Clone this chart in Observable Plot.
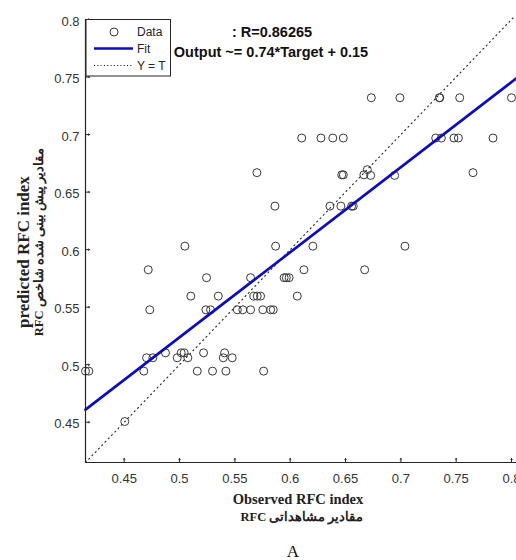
<!DOCTYPE html>
<html><head><meta charset="utf-8">
<script src="https://cdn.jsdelivr.net/npm/d3@7"></script>
<script src="https://cdn.jsdelivr.net/npm/@observablehq/plot@0.6"></script>
<style>
body{margin:0;background:#fff;}
#chart{width:516px;height:560px;overflow:hidden;}
</style></head><body><div id="chart"></div>
<script>
// ---- data ----
const targets = [
  0.4505,
  0.4150, 0.4180, 0.4677, 0.5160, 0.5298, 0.5419, 0.5760,
  0.4702, 0.4759, 0.4979, 0.5075, 0.5395, 0.5476,
  0.4873, 0.5015, 0.5042, 0.5217, 0.5407,
  0.4731, 0.5238, 0.5280, 0.5522, 0.5572, 0.5642, 0.5753, 0.5823, 0.5847,
  0.5102, 0.5350, 0.5672, 0.5702, 0.5732, 0.6064,
  0.5244, 0.5642, 0.5945, 0.5965, 0.5990,
  0.4717, 0.6124, 0.6673,
  0.5048, 0.5868, 0.6205, 0.7037,
  0.5862, 0.6359, 0.6458, 0.6555, 0.6570,
  0.6466, 0.6480, 0.6666, 0.6697, 0.6727, 0.6944,
  0.5699, 0.7652,
  0.6104, 0.6278, 0.6385, 0.6480, 0.7315, 0.7366, 0.7480, 0.7520, 0.7833,
  0.6733, 0.6992, 0.7348, 0.7352, 0.7532, 0.8000
];
const outputs = [
  0.4506,
  0.4944, 0.4944, 0.4944, 0.4944, 0.4944, 0.4944, 0.4944,
  0.5060, 0.5060, 0.5060, 0.5060, 0.5060, 0.5060,
  0.5103, 0.5103, 0.5103, 0.5103, 0.5103,
  0.5477, 0.5477, 0.5477, 0.5477, 0.5477, 0.5477, 0.5477, 0.5477, 0.5477,
  0.5596, 0.5596, 0.5596, 0.5596, 0.5596, 0.5596,
  0.5756, 0.5756, 0.5756, 0.5756, 0.5756,
  0.5825, 0.5825, 0.5825,
  0.6030, 0.6030, 0.6030, 0.6030,
  0.6378, 0.6378, 0.6378, 0.6378, 0.6378,
  0.6650, 0.6650, 0.6650, 0.6695, 0.6645, 0.6645,
  0.6669, 0.6669,
  0.6970, 0.6970, 0.6970, 0.6970, 0.6970, 0.6970, 0.6970, 0.6970, 0.6970,
  0.7320, 0.7320, 0.7320, 0.7320, 0.7320, 0.7320
];
const axisLimits = [0.415, 0.8];
const lineEnd = 0.805;
const fitSlope = 0.7395;
const fitIntercept = 0.154;
const xTicks = [0.45, 0.5, 0.55, 0.6, 0.65, 0.7, 0.75, 0.8];
const xTickLabels = ["0.45", "0.5", "0.55", "0.6", "0.65", "0.7", "0.75", "0.8"];
const yTicks = [0.45, 0.5, 0.55, 0.6, 0.65, 0.7, 0.75, 0.8];
const yTickLabels = ["0.45", "0.5", "0.55", "0.6", "0.65", "0.7", "0.75", "0.8"];
const titleLines = [": R=0.86265", "Output ~= 0.74*Target + 0.15"];
const legendLabels = ["Data", "Fit", "Y = T"];
const xLabelLines = ["Observed RFC index", "RFC مقادیر مشاهداتی"];
const yLabelLines = ["predicted RFC index", "RFC مقادیر پیش بینی شده شاخص"];
const panelLabel = "A";

// ---- derived tables ----
const points = targets.map((t, i) => ({t, o: outputs[i]}));
const fitLine = [axisLimits[0], lineEnd].map(t => ({t, o: fitSlope * t + fitIntercept}));
const idLine = [axisLimits[0], 0.803].map(t => ({t, o: t}));

const SANS = "'Liberation Sans', Arial, sans-serif";
const SERIF = "'Liberation Serif', 'Times New Roman', serif";
const INK = "#262626";
const BLUE = "#0c0cc4";

const plot = Plot.plot({
  width: 516, height: 560,
  marginLeft: 85, marginRight: 5, marginTop: 19, marginBottom: 98,
  style: {fontFamily: SANS, fontSize: "13px", color: "#333", background: "#fff", overflow: "visible"},
  x: {domain: axisLimits},
  y: {domain: axisLimits},
  marks: [
    Plot.line(idLine, {x: "t", y: "o", stroke: "#222", strokeWidth: 1.1, strokeDasharray: "1.1,3.6"}),
    Plot.dot(points, {x: "t", y: "o", r: 4, stroke: "#383838", fill: "none", strokeWidth: 1}),
    Plot.line(fitLine, {x: "t", y: "o", stroke: BLUE, strokeWidth: 2.7}),
    Plot.ruleX([axisLimits[0]], {stroke: INK, strokeWidth: 1.2}),
    Plot.ruleY([axisLimits[0]], {stroke: INK, strokeWidth: 1.2, insetRight: -6}),
    Plot.vector(xTicks, {x: d => d, y: () => axisLimits[0], rotate: 0, length: 4, anchor: "start", stroke: INK, strokeWidth: 1}),
    Plot.vector(yTicks, {x: () => axisLimits[0], y: d => d, rotate: 90, length: 4, anchor: "start", stroke: INK, strokeWidth: 1}),
    Plot.axisX(xTicks, {tickSize: 0, tickPadding: 11, label: null, fill: "#333", fontSize: 13,
      tickFormat: d => xTickLabels[xTicks.indexOf(d)]}),
    Plot.axisY(yTicks, {tickSize: 0, tickPadding: 6, dy: 2, label: null, fill: "#333", fontSize: 13,
      tickFormat: d => yTickLabels[yTicks.indexOf(d)]})
  ]
});

const svg = d3.select(plot);

// legend
const lg = svg.append("g").attr("font-family", SANS).attr("font-size", 12).attr("fill", INK)
  .attr("text-anchor", "start");
lg.append("rect").attr("x", 86).attr("y", 19.5).attr("width", 84.5).attr("height", 56.5)
  .attr("fill", "#fff").attr("stroke", INK).attr("stroke-width", 1);
lg.append("circle").attr("cx", 114).attr("cy", 32).attr("r", 4).attr("fill", "none").attr("stroke", "#383838");
lg.append("line").attr("x1", 94).attr("x2", 133).attr("y1", 48.5).attr("y2", 48.5).attr("stroke", BLUE).attr("stroke-width", 2.7);
lg.append("line").attr("x1", 94).attr("x2", 133).attr("y1", 65.5).attr("y2", 65.5).attr("stroke", "#222").attr("stroke-dasharray", "1.1,2.2");
legendLabels.forEach((s, i) => {
  lg.append("text").attr("x", 137).attr("y", [32, 48.5, 65.5][i]).attr("dy", "0.35em").text(s);
});

// title
const tg = svg.append("g").attr("font-family", SANS).attr("font-size", 14.5).attr("font-weight", "bold")
  .attr("fill", "#111").attr("text-anchor", "middle");
tg.append("text").attr("x", 272).attr("y", 37).text(titleLines[0]);
tg.append("text").attr("x", 271).attr("y", 57).text(titleLines[1]);

// x label
const xg = svg.append("g").attr("font-family", SERIF).attr("font-weight", "bold").attr("fill", "#222")
  .attr("text-anchor", "middle");
xg.append("text").attr("x", 298).attr("y", 504).attr("font-size", 14.5).text(xLabelLines[0]);
xg.append("text").attr("x", 302).attr("y", 521).attr("font-size", 12.5).text(xLabelLines[1]);

// y label
const yg = svg.append("g").attr("font-family", SERIF).attr("font-weight", "bold").attr("fill", "#222")
  .attr("text-anchor", "middle");
yg.append("text").attr("transform", "translate(29,252) rotate(-90)").attr("font-size", 17).text(yLabelLines[0]);
yg.append("text").attr("transform", "translate(43,242) rotate(-90)").attr("font-size", 12.5).text(yLabelLines[1]);

// panel label
svg.append("text").attr("x", 293).attr("y", 557).attr("text-anchor", "middle")
  .attr("font-family", SERIF).attr("font-size", 17).attr("fill", "#111").text(panelLabel);

document.getElementById("chart").appendChild(plot);
</script>
</body></html>
